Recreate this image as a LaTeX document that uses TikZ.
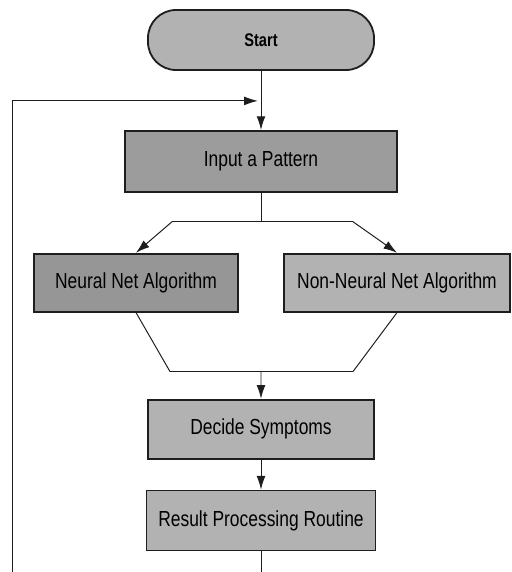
\documentclass[tikz,border=0pt]{standalone}
\usepackage{fontspec}
\setmainfont{Liberation Sans}[FakeStretch=0.8]
\usepackage{tikz}
\usetikzlibrary{arrows.meta, positioning, calc}
\definecolor{boxgray}{RGB}{178, 178, 178}
\definecolor{darkgray}{RGB}{150, 150, 150}
\definecolor{linegray}{RGB}{30, 30, 30}
\tikzset{
  flowline/.style={line width=0.7pt, linegray},
  flowarrow/.style={-{Latex[length=3.4mm, width=2.2mm]}, line width=0.7pt, linegray},
  procbox/.style={draw=linegray, line width=1.3pt, fill=boxgray, inner sep=0pt, minimum height=1.5cm, font=\fontsize{15.5}{18}\selectfont},
  startbox/.style={procbox, rounded corners=0.7cm, font=\fontsize{13}{15}\selectfont\bfseries}
}
\begin{document}
\begin{tikzpicture}
    \useasboundingbox (-6.525,1.0) rectangle (6.275,-13.3);

    \node (start) [startbox, minimum width=5.65cm] at (0,0) {Start};
    \node (inp) [procbox, fill=darkgray!80!boxgray, below=1.475cm of start, minimum width=6.8cm, minimum height=1.525cm] {Input a Pattern};
    \node (nn) [procbox, fill=darkgray, below=1.5cm of inp, xshift=-3.125cm, minimum width=5.1cm, minimum height=1.45cm] {Neural Net Algorithm};
    \node (nnn) [procbox, below=1.5cm of inp, xshift=3.4cm, minimum width=5.65cm, minimum height=1.45cm] {Non-Neural Net Algorithm};
    \node (dec) [procbox, below=5.15cm of inp, minimum width=5.65cm, minimum height=1.475cm] {Decide Symptoms};
    \node (res) [procbox, below=0.75cm of dec, minimum width=5.725cm] {Result Processing Routine};

    \coordinate (join) at ($(start.south)+(-0.08,-0.75)$);
    \coordinate (loopfoot) at (-6.225,-13.3);
    \coordinate (split) at ($(inp.south)+(0,-0.725)$);
    \coordinate (forkL) at ($(split)+(-2.225,0)$);
    \coordinate (forkR) at ($(split)+(2.3,0)$);
    \coordinate (mergeL) at ($(nn.south)+(0.85,-1.475)$);
    \coordinate (mergeR) at ($(mergeL)+(4.575,0)$);
    \coordinate (merge) at ($(mergeL)+(2.275,0)$);
    \coordinate (resfoot) at ($(res.south)+(0,-0.675)$);

    \draw[flowarrow] (start) -- (inp);
    \draw[flowarrow] (loopfoot) |- (join);

    \draw[flowline] (inp) -- (split);
    \draw[flowline] (forkL) -- (forkR);
    \draw[flowarrow] (forkL) -- (nn.north);
    \draw[flowarrow] (forkR) -- (nnn.north);

    \draw[flowline] (nn.south) -- (mergeL);
    \draw[flowline] (nnn.south) -- (mergeR);
    \draw[flowline] (mergeL) -- (mergeR);
    \draw[flowarrow] (merge) -- (dec);

    \draw[flowarrow] (dec) -- (res);
    \draw[flowline] (res) -- (resfoot);
\end{tikzpicture}
\end{document}
